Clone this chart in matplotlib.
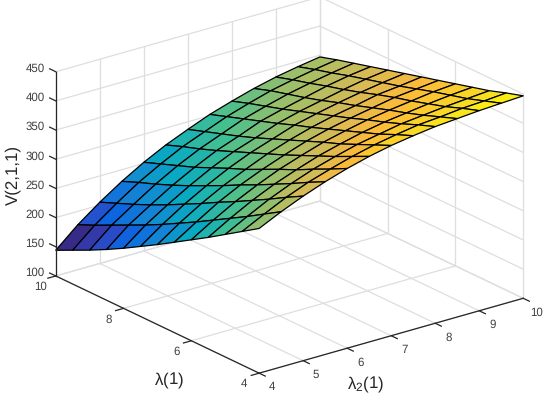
import numpy as np, matplotlib
matplotlib.use('Agg')
import matplotlib.pyplot as plt
from matplotlib.colors import LinearSegmentedColormap, Normalize
from mpl_toolkits.mplot3d import proj3d

plt.rcParams['font.family'] = ['Liberation Sans', 'DejaVu Sans']
plt.rcParams['mathtext.fontset'] = 'custom'
plt.rcParams['mathtext.rm'] = 'Liberation Sans'
plt.rcParams['mathtext.it'] = 'Liberation Sans:italic'
plt.rcParams['mathtext.bf'] = 'Liberation Sans:bold'
plt.rcParams['mathtext.default'] = 'rm'
plt.rcParams['text.hinting'] = 'none'

lambda2_vals = [4, 4.5, 5, 5.5, 6, 6.5, 7, 7.5, 8, 8.5, 9, 9.5, 10]
lambda_vals = [10, 9.5, 9, 8.5, 8, 7.5, 7, 6.5, 6, 5.5, 5, 4.5, 4]
V = [
    [144, 177, 205, 230, 252, 271, 287, 302, 314, 325, 334, 341, 347],
    [158, 190, 217, 242, 263, 282, 297, 312, 324, 335, 343, 350, 356],
    [172, 204, 229, 253, 274, 292, 307, 322, 333, 343, 351, 358, 364],
    [187, 218, 242, 265, 285, 303, 317, 332, 342, 351, 360, 367, 372],
    [203, 232, 256, 278, 298, 315, 328, 342, 352, 360, 368, 375, 380],
    [220, 247, 271, 292, 311, 327, 340, 353, 362, 370, 377, 383, 388],
    [237, 263, 286, 306, 323, 339, 352, 363, 372, 379, 387, 391, 396],
    [255, 279, 302, 321, 337, 351, 364, 374, 382, 389, 396, 400, 404],
    [273, 296, 317, 335, 351, 364, 376, 385, 393, 399, 404, 409, 412],
    [291, 313, 333, 350, 364, 377, 387, 396, 403, 408, 413, 417, 420],
    [310, 330, 349, 365, 379, 390, 400, 407, 414, 418, 422, 425, 428],
    [329, 348, 366, 381, 393, 404, 413, 420, 426, 429, 433, 435, 438],
    [348, 366, 382, 396, 408, 418, 426, 432, 437, 440, 443, 445, 447],
]
z_ticks = [100, 150, 200, 250, 300, 350, 400, 450]
lambda_ticks = [4, 6, 8, 10]
lambda2_ticks = [4, 5, 6, 7, 8, 9, 10]

parula = LinearSegmentedColormap.from_list('parula', [
    (0.00, (0.21, 0.17, 0.53)), (0.07, (0.20, 0.26, 0.75)), (0.15, (0.05, 0.40, 0.88)),
    (0.25, (0.08, 0.52, 0.83)), (0.37, (0.03, 0.67, 0.76)), (0.50, (0.26, 0.75, 0.57)),
    (0.62, (0.59, 0.75, 0.42)), (0.74, (0.85, 0.73, 0.33)), (0.82, (0.99, 0.73, 0.22)),
    (0.92, (0.97, 0.86, 0.14)), (1.00, (1.00, 1.00, 0.02))])

fig = plt.figure(figsize=(5.5, 3.95), dpi=100)
ax = fig.add_axes([-0.1272, -0.3784, 700 / 550, 700 / 395], projection='3d', proj_type='ortho')
ax.set_axis_off()
ax.patch.set_alpha(0)
ax.computed_zorder = False
ax.set_xlim(4, 10); ax.set_ylim(4, 10); ax.set_zlim(100, 450)
ax.view_init(elev=21.6, azim=-127.6)
ax.set_box_aspect((1, 1, 0.659), zoom=0.7212)

grid = dict(color='#dedede', lw=0.9, zorder=1)
for k in lambda2_ticks:
    ax.plot([k, k], [4, 10], [100, 100], **grid)
    ax.plot([k, k], [10, 10], [100, 450], **grid)
for k in lambda_ticks:
    ax.plot([4, 10], [k, k], [100, 100], **grid)
    ax.plot([10, 10], [k, k], [100, 450], **grid)
for z in z_ticks:
    ax.plot([4, 10], [10, 10], [z, z], **grid)
    ax.plot([10, 10], [4, 10], [z, z], **grid)

X, Y = np.meshgrid(lambda2_vals, lambda_vals)
Zv = np.array(V, dtype=float)
colors = parula(Normalize(Zv.min(), Zv.max())(Zv))
ax.plot_surface(X, Y, Zv, facecolors=colors, rstride=1, cstride=1, shade=False,
                edgecolor='black', linewidth=0.9, antialiased=True, zorder=2)

dark = dict(color='#262626', lw=0.9, zorder=3)
ax.plot([4, 4], [10, 10], [100, 450], **dark)
ax.plot([4, 4], [4, 10], [100, 100], **dark)
ax.plot([4, 10], [4, 4], [100, 100], **dark)


def label3d(x, y, z, s, ha):
    px, py, _ = proj3d.proj_transform(x, y, z, ax.get_proj())
    ax.text2D(px, py, s, transform=ax.transData, ha=ha, va='center', fontsize=8.3, color='#404040')


for z in z_ticks:
    ax.plot([4, 4], [10, 10.18], [z, z], **dark)
    label3d(4, 10.325, z - 4, str(z), 'right')
for k in lambda_ticks:
    ax.plot([4, 3.82], [k, k], [100, 100], **dark)
    label3d(3.66, k, 88.3, str(k), 'center')
for k in lambda2_ticks:
    ax.plot([k, k], [4, 3.82], [100, 100], **dark)
    label3d(k, 3.615, 86.5, str(k), 'center')

W, H = 550, 395
fig.text(13 / W, 1 - 175 / H, 'V(2,1,1)', rotation=90, ha='center', va='center', fontsize=12.2, color='#262626')
fig.text(169.5 / W, 1 - 384 / H, r'$\lambda$(1)', ha='center', va='baseline', fontsize=12.2, color='#262626')
fig.text(365.6 / W, 1 - 388.5 / H, r'$\lambda_{2}$(1)', ha='center', va='baseline', fontsize=12.2, color='#262626')
fig.savefig('out.png', dpi=100)
